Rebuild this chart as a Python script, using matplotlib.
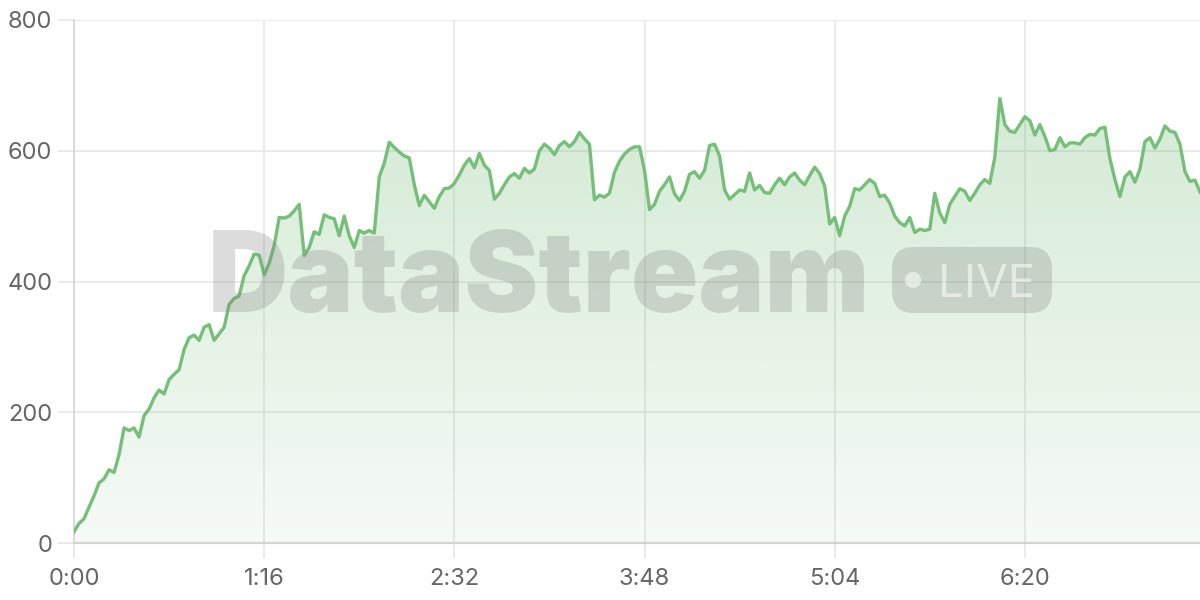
import numpy as np
import matplotlib
matplotlib.use("Agg")
import matplotlib.pyplot as plt
from matplotlib.patches import FancyBboxPatch, Circle

# readings every 2 seconds
values = [
    17, 30, 37, 55, 72, 92, 98, 112, 108, 135,
    176, 172, 176, 162, 195, 205, 222, 234, 228, 250,
    258, 265, 296, 314, 318, 310, 330, 334, 310, 320,
    330, 365, 374, 378, 409, 424, 442, 440, 410, 428,
    455, 498, 497, 500, 508, 518, 440, 452, 476, 472,
    502, 498, 496, 470, 500, 470, 452, 478, 474, 478,
    474, 560, 581, 613, 605, 598, 592, 589, 548, 516,
    532, 522, 512, 530, 542, 543, 550, 563, 578, 588,
    574, 596, 578, 570, 526, 535, 548, 560, 565, 558,
    573, 566, 572, 600, 610, 604, 594, 608, 614, 606,
    614, 628, 618, 610, 525, 532, 529, 535, 567, 584,
    595, 602, 606, 606, 570, 510, 518, 538, 548, 560,
    534, 524, 538, 564, 568, 558, 570, 608, 610, 592,
    540, 526, 533, 540, 538, 566, 540, 547, 536, 535,
    548, 558, 548, 560, 566, 555, 548, 562, 575, 565,
    546, 488, 498, 470, 500, 515, 542, 540, 548, 556,
    550, 530, 532, 520, 500, 490, 485, 498, 475, 480,
    478, 480, 535, 505, 490, 518, 530, 542, 538, 524,
    535, 548, 556, 550, 590, 680, 640, 630, 628, 640,
    652, 646, 624, 640, 622, 600, 602, 620, 606, 612,
    612, 610, 620, 625, 624, 634, 636, 588, 556, 530,
    560, 568, 552, 572, 614, 620, 604, 618, 638, 630,
    628, 610, 568, 553, 555, 537,
]
seconds = np.arange(len(values)) * 2
x_ticks = [0, 76, 152, 228, 304, 380]
y_ticks = [0, 200, 400, 600, 800]

line_color = "#76be79"
grid_color = "#e8e8e8"
label_color = "#666666"

plt.rcParams["font.family"] = ["Inter", "DejaVu Sans"]

fig = plt.figure(figsize=(12, 6), dpi=100)
ax = fig.add_axes([74 / 1200, 57 / 600, 1126 / 1200, 523 / 600])
ax.set_xlim(0, 450)
ax.set_ylim(0, 800)

# gradient fill under the line
fill = ax.fill_between(seconds, values, 0, color="none", lw=0)
rgb = matplotlib.colors.to_rgb(line_color)
grad = np.zeros((256, 1, 4))
grad[:, 0, :3] = rgb
grad[:, 0, 3] = np.linspace(0.07, 0.36, 256)
im = ax.imshow(grad, extent=[0, 450, 0, 800], origin="lower", aspect="auto", zorder=1)
im.set_clip_path(fill.get_paths()[0], ax.transData)

ax.plot(seconds, values, color=line_color, lw=2.4, zorder=4, solid_joinstyle="round")

ax.set_xticks(x_ticks)
ax.set_xticklabels([f"{s // 60}:{s % 60:02d}" for s in x_ticks])
ax.set_yticks(y_ticks)
ax.grid(True, color=grid_color, lw=1.3, zorder=0)
ax.set_axisbelow(True)
ax.tick_params(axis="x", length=11, width=1.3, color=grid_color, pad=7,
               labelsize=17, labelcolor=label_color)
ax.tick_params(axis="y", length=11.5, width=1.3, color=grid_color, pad=4,
               labelsize=17, labelcolor=label_color)
for side in ["top", "right"]:
    ax.spines[side].set_visible(False)
ax.spines["left"].set_color("#d8d8d8")
ax.spines["left"].set_linewidth(1.3)
ax.spines["bottom"].set_color("#d4d4d4")
ax.spines["bottom"].set_linewidth(1.6)

# watermark
wm_alpha = 0.27
fig.text(208 / 1200, 288 / 600, "DataStream", fontsize=80, fontweight="black",
         color="#808080", alpha=wm_alpha, ha="left", va="baseline", zorder=3)
badge = FancyBboxPatch((892, 287), 160, 66, boxstyle="round,pad=0,rounding_size=22",
                       transform=None, facecolor="#808080", edgecolor="none",
                       alpha=wm_alpha, zorder=3)
fig.patches.append(badge)
fig.patches.append(Circle((913, 320), 8, transform=None, facecolor="white",
                          edgecolor="none", alpha=0.55, zorder=3))
fig.text(938 / 1200, 303 / 600, "LIVE", fontsize=33, color="white", alpha=0.55,
         ha="left", va="baseline", zorder=3)

fig.savefig("out.png", dpi=100)
